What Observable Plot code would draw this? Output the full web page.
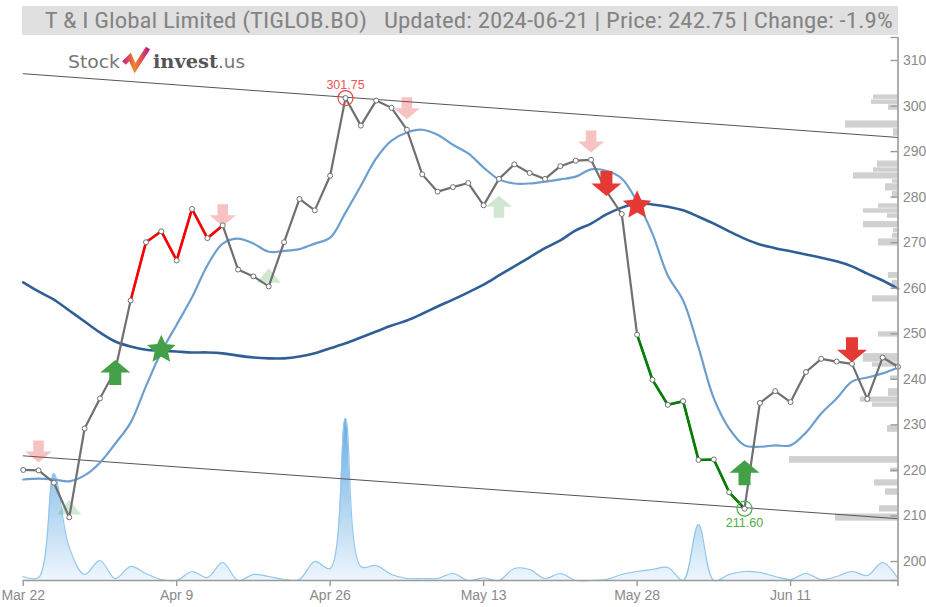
<!DOCTYPE html>
<html><head><meta charset="utf-8">
<script src="https://cdn.jsdelivr.net/npm/d3@7"></script>
<script src="https://cdn.jsdelivr.net/npm/@observablehq/plot@0.6"></script>
<style>
html,body{margin:0;padding:0;background:#fff;}
#wrap{position:relative;width:926px;height:607px;overflow:hidden;background:#fff;}
#chart{position:absolute;left:0;top:0;}
#title{position:absolute;left:22px;top:6px;width:876px;height:29px;background:#e0e0e0;}
#title span{position:absolute;right:5px;top:3px;font-size:22px;font-family:"Liberation Sans Narrow","Roboto Condensed","Liberation Sans",Arial,sans-serif;color:#848484;white-space:nowrap;transform-origin:right center;line-height:23px;}
#logo{position:absolute;left:60px;top:44px;}
</style>
</head><body>
<div id="wrap">
<div id="chart"></div>
<div id="title"><span>T &amp; I Global Limited (TIGLOB.BO)&nbsp;&nbsp; Updated: 2024-06-21 | Price: 242.75 | Change: -1.9%</span></div>
<svg id="logo" width="200" height="34">
<defs><linearGradient id="lg" x1="0" y1="0" x2="1" y2="0">
<stop offset="0%" stop-color="#c8267e"/><stop offset="45%" stop-color="#f5842a"/><stop offset="100%" stop-color="#c21f7c"/></linearGradient></defs>
<text x="8" y="24" font-family="DejaVu Sans" font-size="18" fill="#777" textLength="52" lengthAdjust="spacingAndGlyphs">Stock</text>
<polyline points="64,19 70,13 75,24 88,4" fill="none" stroke="url(#lg)" stroke-width="5" stroke-linejoin="miter"/>
<text x="93" y="24" font-family="DejaVu Serif" font-weight="bold" font-size="19" fill="#555" textLength="65" lengthAdjust="spacingAndGlyphs">invest</text>
<text x="158" y="24" font-family="DejaVu Sans" font-size="18" fill="#777" textLength="27" lengthAdjust="spacingAndGlyphs">.us</text>
</svg>
</div>
<script>
// ---- data ----
const price = [220.1,220.0,217.3,209.7,229.2,235.8,242.0,257.3,270.1,272.5,266.1,277.4,271.0,273.8,264.1,262.6,260.4,270.1,279.6,277.1,284.7,301.75,295.7,301.2,299.6,294.8,285.0,281.2,282.2,283.1,278.2,284.0,287.2,285.3,284.0,286.8,288.0,288.2,281.3,276.3,249.8,239.9,234.4,235.2,222.3,222.4,215.2,211.6,234.8,237.4,235.0,241.6,244.5,243.9,243.4,235.7,244.8,242.75];
const maShort = [218.0,218.2,218.0,217.6,218.9,221.7,225.9,230.5,238.5,246.0,252.0,258.0,265.0,269.8,270.9,269.8,268.0,268.2,268.6,269.8,271.1,276.6,282.5,288.5,292.4,294.2,294.8,293.7,291.5,289.6,286.5,283.9,283.0,283.0,283.4,283.9,284.5,286.1,285.8,284.1,279.0,272.0,262.8,257.3,247.0,235.8,229.2,225.5,225.2,225.5,225.5,228.3,232.5,235.8,239.5,240.4,241.3,242.6];
const maLong = [261.3,259.3,257.5,255.1,252.7,250.3,248.3,247.2,246.5,246.3,246.1,245.9,245.9,245.7,245.2,244.8,244.6,244.6,245.0,245.7,246.8,247.9,249.2,250.5,251.8,252.9,254.4,256.0,257.5,259.1,260.8,262.8,264.8,266.8,268.8,270.5,272.7,274.2,276.2,277.7,278.6,278.4,277.9,277.1,275.7,274.2,272.5,270.9,269.6,268.8,268.1,267.4,266.7,265.9,264.8,263.2,261.7,259.9];
const volume = [4,3,107,33,6,20,2,14,7,1,0,9,3,18,0,6,4,1,1,19,12,162,14,15,6,2,2,2,7,0,2.5,0,12,11,2,7,0,0,1,6,9,11,13,0,56,0,6,9,8,4,1,7,1,4,9,5,18,2];
const tickIndex = [0,10,20,30,40,50];
const tickLabels = ["Mar 22","Apr 9","Apr 26","May 13","May 28","Jun 11"];
const yTicks = [200,210,220,230,240,250,260,270,280,290,300,310];
const trendUpper = [307.1, 293.1];   // at first and last index
const trendLower = [223.2, 209.4];
const redSegment = [7, 13];
const greenSegment = [40, 47];
const sigIndex = [1, 3, 6, 9, 13, 16, 25, 31, 37, 38, 40, 47, 54];
const sigLevel = [224.15, 211.9, 241.5, 246.5, 276.0, 262.8, 299.5, 277.9, 292.2, 283.0, 278.2, 219.5, 246.5];
const sigType = ["sellWeak","buyTri","buy","buyStar","sellWeak","buyTri","sellWeak","buyWeak","sellWeak","sell","sellStar","buy","sell"];
const extremeIndex = [21, 47];
const extremeLabel = ["301.75", "211.60"];
const profHi = [302.5,301.4,300.3,296.8,295.1,288.0,286.5,285.4,283.9,283.0,281.3,278.6,277.5,276.4,274.7,273.2,272.1,270.9,263.5,261.8,258.4,250.5,245.7,243.7,240.8,238.0,236.2,234.9,229.9,223.1,220.6,218.0,216.0,212.3,210.5];
const profLo = [301.4,300.3,299.0,295.1,293.3,286.5,285.4,283.9,283.0,281.3,279.9,277.5,276.4,275.3,273.2,272.1,270.9,269.2,262.1,260.4,256.9,249.2,243.7,242.6,239.7,236.2,234.9,233.8,228.3,221.5,219.5,216.5,214.5,210.8,208.8];
const profVol = [24.5,26.5,9.5,52.5,4.5,20.5,24.5,44.5,5.5,12.5,5.5,19.5,34.5,10.5,34.5,4.5,5.5,19.5,9.5,5.5,25.5,19.5,34.5,25.5,7.5,9.5,37.5,25.5,10.5,108.5,7.5,23.5,12.5,18.5,62.5];

// ---- derived tables ----
const last = price.length - 1;
const rows = price.map((p, i) => ({i, price: p, maShort: maShort[i], maLong: maLong[i], vol: volume[i]}));
const yMin = 195.83, yMax = 315.05;
const volK = 1 / 4.5545;      // volume unit -> price units
const profK = 1 / 15.35;      // profile unit -> index units
const profile = profHi.map((h, k) => ({hi: h, lo: profLo[k], vol: profVol[k]}));
const trends = [
  {i: 0, v: trendUpper[0], g: "u"}, {i: last, v: trendUpper[1], g: "u"},
  {i: 0, v: trendLower[0], g: "l"}, {i: last, v: trendLower[1], g: "l"}
];
const signals = sigIndex.map((i, k) => ({i, v: sigLevel[k], t: sigType[k]}));
const extremes = extremeIndex.map((i, k) => ({i, v: price[i], label: extremeLabel[k]}));

// ---- custom symbols ----
function arrow(dir) {
  return {draw(ctx, size) {
    const r = Math.sqrt(size / Math.PI), sw = 0.48 * r, hw = 1.2 * r;
    const p = [[-sw,-r],[sw,-r],[sw,0],[hw,0],[0,r],[-hw,0],[-sw,0]];
    ctx.moveTo(p[0][0], dir * p[0][1]);
    for (let k = 1; k < p.length; k++) ctx.lineTo(p[k][0], dir * p[k][1]);
    ctx.closePath();
  }};
}
const arrowDown = arrow(1), arrowUp = arrow(-1);
const star = {draw(ctx, size) {
  const R = Math.sqrt(size / Math.PI), ri = R * 0.47;
  for (let k = 0; k < 10; k++) {
    const a = -Math.PI / 2 + k * Math.PI / 5, rr = k % 2 ? ri : R;
    k ? ctx.lineTo(rr * Math.cos(a), rr * Math.sin(a)) : ctx.moveTo(rr * Math.cos(a), rr * Math.sin(a));
  }
  ctx.closePath();
}};
const tri = {draw(ctx, size) {
  const r = Math.sqrt(size / Math.PI);
  ctx.moveTo(0, -0.6 * r); ctx.lineTo(r, 0.6 * r); ctx.lineTo(-r, 0.6 * r); ctx.closePath();
}};

const RED = "#e53935", GREEN = "#43a047";
const sig = (t) => signals.filter(d => d.t === t);

const gradDefs = () => {
  const defs = d3.create("svg:defs");
  const g = defs.append("linearGradient").attr("id", "volGrad").attr("x1", 0).attr("y1", 0).attr("x2", 0).attr("y2", 1);
  g.append("stop").attr("offset", "0%").attr("stop-color", "#66ace2");
  g.append("stop").attr("offset", "100%").attr("stop-color", "#eef6fd");
  return defs.node();
};

const chart = Plot.plot({
  width: 926, height: 607,
  marginLeft: 22.7, marginRight: 28.5, marginTop: 37, marginBottom: 27,
  x: {domain: [0, last]},
  y: {domain: [yMin, yMax]},
  style: {background: "transparent", fontFamily: "'Liberation Sans', Arial, sans-serif", fontSize: "14px", overflow: "visible"},
  marks: [
    gradDefs,
    // volume profile
    Plot.rect(profile, {y1: "lo", y2: "hi", x1: d => last - d.vol * profK, x2: last, fill: "#d0d0d0", insetTop: 0.3, insetBottom: 0.3}),
    // volume area
    Plot.area(rows, {x1: "i", y1: yMin, y2: d => yMin + d.vol * volK, curve: "catmull-rom", fill: "url(#volGrad)"}),
    Plot.line(rows, {x: "i", y: d => yMin + d.vol * volK, curve: "catmull-rom", stroke: "#93c6ec", strokeWidth: 1.2}),
    // trend channel
    Plot.line(trends, {x: "i", y: "v", z: "g", stroke: "#555", strokeWidth: 1}),
    // moving averages
    Plot.line(rows, {x: "i", y: "maLong", curve: "catmull-rom", stroke: "#2f5f96", strokeWidth: 2.6}),
    Plot.line(rows, {x: "i", y: "maShort", curve: "catmull-rom", stroke: "#6c9fd0", strokeWidth: 2.2}),
    // faded signals
    Plot.dot(sig("sellWeak"), {x: "i", y: "v", symbol: arrowDown, r: 11, fill: RED, fillOpacity: 0.3, stroke: "none"}),
    Plot.dot(sig("buyWeak"), {x: "i", y: "v", symbol: arrowUp, r: 11, fill: GREEN, fillOpacity: 0.25, stroke: "none"}),
    Plot.dot(sig("buyTri"), {x: "i", y: "v", symbol: tri, r: 12, fill: GREEN, fillOpacity: 0.25, stroke: "none"}),
    // price line
    Plot.line(rows, {x: "i", y: "price", stroke: "#707070", strokeWidth: 2.2}),
    Plot.line(rows.slice(redSegment[0], redSegment[1] + 1), {x: "i", y: "price", stroke: "#ff0000", strokeWidth: 2.6}),
    Plot.line(rows.slice(greenSegment[0], greenSegment[1] + 1), {x: "i", y: "price", stroke: "#007f00", strokeWidth: 2.6}),
    Plot.dot(rows, {x: "i", y: "price", r: 2.5, fill: "white", stroke: "#707070", strokeWidth: 1}),
    // strong signals
    Plot.dot(sig("buy"), {x: "i", y: "v", symbol: arrowUp, r: 12.5, fill: GREEN, stroke: "none"}),
    Plot.dot(sig("sell"), {x: "i", y: "v", symbol: arrowDown, r: 12.5, fill: RED, stroke: "none"}),
    Plot.dot(sig("buyStar"), {x: "i", y: "v", symbol: star, r: 15, fill: GREEN, stroke: "none"}),
    Plot.dot(sig("sellStar"), {x: "i", y: "v", symbol: star, r: 15, fill: RED, stroke: "none"}),
    // extremes
    Plot.dot(extremes.slice(0, 1), {x: "i", y: "v", r: 7.5, fill: "none", stroke: "#ee4444", strokeWidth: 1.2}),
    Plot.dot(extremes.slice(1), {x: "i", y: "v", r: 7.5, fill: "none", stroke: "#4caf50", strokeWidth: 1.2}),
    Plot.text(extremes.slice(0, 1), {x: "i", y: "v", text: "label", dy: -13, fill: "#ee5555", fontSize: 12.5}),
    Plot.text(extremes.slice(1), {x: "i", y: "v", text: "label", dy: 14, fill: "#4cae4c", fontSize: 12.5}),
    // axes
    Plot.ruleY([yMin], {stroke: "#9a9a9a", strokeWidth: 1.6}),
    Plot.ruleX([last], {stroke: "#9a9a9a", strokeWidth: 1.6, insetBottom: -6}),
    Plot.ruleY(yTicks.concat([yMax, yMin]), {x1: last, x2: last, insetLeft: -7, stroke: "#9a9a9a", strokeWidth: 1.4}),
    Plot.axisX({ticks: tickIndex, tickFormat: d => tickLabels[tickIndex.indexOf(d)], tickSize: 6, tickPadding: 4, stroke: "#9a9a9a", strokeWidth: 1.4, fill: "#8a8a8a", fontSize: 14, label: null}),
    Plot.axisY({anchor: "right", ticks: yTicks, tickSize: 0, tickPadding: 5, fill: "#8a8a8a", fontSize: 14, label: null})
  ]
});
document.getElementById("chart").appendChild(chart);

// fit the title text to the banner width
const span = document.querySelector("#title span");
const w = span.getBoundingClientRect().width;
span.style.transform = `scaleX(${848 / w})`;
</script>
</body></html>
